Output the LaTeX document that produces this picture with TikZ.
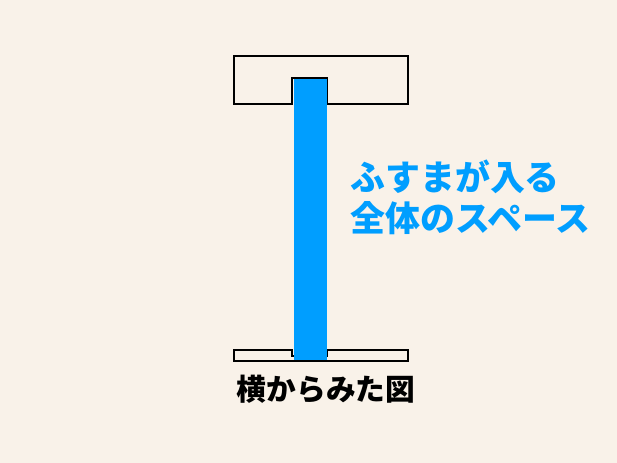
\documentclass[tikz,border=0pt]{standalone}
\usepackage{fontspec}
\newfontfamily\jpfont{Noto Sans CJK JP}
\usepackage{tikz}
\usetikzlibrary{positioning}

\definecolor{paper}{RGB}{249,242,233}
\definecolor{fusumablue}{RGB}{0,158,255}

\begin{document}
\begin{tikzpicture}[x=0.75pt,y=0.75pt,yscale=-1,xscale=1,
  rail/.style={draw=black,line width=1.2pt,fill=paper},
  label/.style={inner sep=0pt,font=\jpfont\bfseries}]
%set diagram left start at 0, and has height of 463
\fill[paper] (0,0) rectangle (617,463);
\useasboundingbox (0,0) rectangle (617,463);

%Shape: upper rail (kamoi)
\draw[rail] (234,56) -- (408,56) -- (408,104) -- (327,104) -- (327,78) -- (292,78) -- (292,104) -- (234,104) -- cycle ;
%Shape: lower rail (shikii)
\draw[rail] (234,350) -- (292,350) -- (292,356) -- (327,356) -- (327,350) -- (408,350) -- (408,361) -- (234,361) -- cycle ;
%Shape: fusuma
\fill[fusumablue] (294,79) rectangle (327,360);

% Text Node
\node (space) [label,anchor=west,align=left,text=fusumablue,font=\jpfont\bfseries\fontsize{26.2}{30.5}\selectfont] at (350,197) {ふすまが入る\\全体のスペース};
% Text Node
\node (side) [label,text=black,font=\jpfont\bfseries\fontsize{22.3}{26}\selectfont] at (326,389) {横からみた図};

\end{tikzpicture}
\end{document}
